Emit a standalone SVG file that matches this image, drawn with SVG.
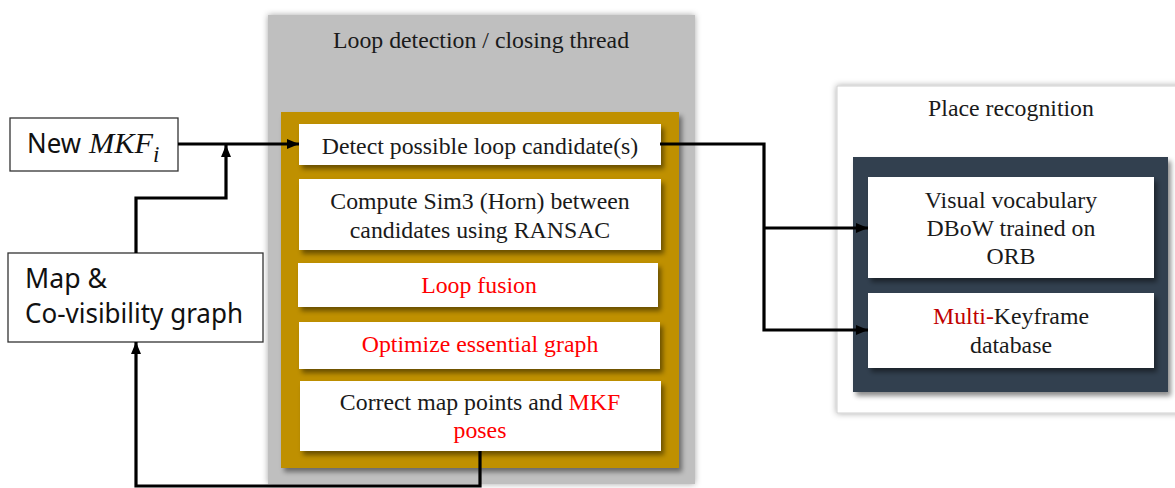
<svg xmlns="http://www.w3.org/2000/svg" width="1175" height="488" viewBox="0 0 1175 488">
  <defs>
    <filter id="glow" x="-10%" y="-10%" width="120%" height="120%">
      <feDropShadow dx="0" dy="0" stdDeviation="3" flood-color="#000" flood-opacity="0.35"/>
    </filter>
    <filter id="sh" x="-10%" y="-10%" width="125%" height="130%">
      <feDropShadow dx="3" dy="4" stdDeviation="2.5" flood-color="#000" flood-opacity="0.45"/>
    </filter>
    <marker id="arr" viewBox="0 0 12 10" refX="12" refY="5" markerWidth="12" markerHeight="10" markerUnits="userSpaceOnUse" orient="auto">
      <path d="M0,0 L12,5 L0,10 Z" fill="#000"/>
    </marker>
    <style>
      .serif { font-family: "Liberation Serif", "Times New Roman", serif; font-size: 23.8px; fill: #1a1a1a; text-anchor: middle; }
      .red { fill: #ff0000; }
      .dred { fill: #c00000; }
      .sans { font-family: "Noto Sans", "Open Sans", sans-serif; font-size: 27px; fill: #111; }
      .plain { fill: #fff; stroke: #333; stroke-width: 1.3; }
      .wbox { fill: #fff; filter: url(#sh); }
      .conn { fill: none; stroke: #000; stroke-width: 3.2; }
    </style>
  </defs>
  <rect width="1175" height="488" fill="#fff"/>

  <g id="loop-thread">
    <rect x="268" y="15" width="427" height="469" fill="#bfbfbf" filter="url(#glow)"/>
    <text class="serif" x="481" y="48">Loop detection / closing thread</text>
    <rect x="281" y="112" width="398" height="356" fill="#bf9000" filter="url(#sh)"/>
  </g>

  <g id="detect">
    <rect class="wbox" x="299" y="124" width="362" height="41"/>
    <text class="serif" x="480" y="154">Detect possible loop candidate(s)</text>
  </g>
  <g id="sim3">
    <rect class="wbox" x="299" y="179" width="362" height="71"/>
    <text class="serif" x="480" y="209">Compute Sim3 (Horn) between</text>
    <text class="serif" x="480" y="238">candidates using RANSAC</text>
  </g>
  <g id="fusion">
    <rect class="wbox" x="298" y="263" width="360" height="44"/>
    <text class="serif red" x="479" y="293">Loop fusion</text>
  </g>
  <g id="optimize">
    <rect class="wbox" x="299" y="322" width="361" height="47"/>
    <text class="serif red" x="480" y="352">Optimize essential graph</text>
  </g>
  <g id="correct">
    <rect class="wbox" x="300" y="381" width="361" height="70"/>
    <text class="serif" x="480" y="410">Correct map points and <tspan class="red">MKF</tspan></text>
    <text class="serif red" x="480" y="438">poses</text>
  </g>

  <g id="new-mkf">
    <rect class="plain" x="10" y="118" width="168" height="53"/>
    <text class="sans" x="27" y="153" textLength="54" lengthAdjust="spacingAndGlyphs">New</text>
    <text x="89" y="153" font-family="'Liberation Serif', 'DejaVu Serif', serif" font-style="italic" font-size="30" fill="#111" textLength="64" lengthAdjust="spacingAndGlyphs">MKF</text>
    <text x="153" y="162" font-family="'Liberation Serif', 'DejaVu Serif', serif" font-style="italic" font-size="23" fill="#111">i</text>
  </g>

  <g id="map">
    <rect class="plain" x="8" y="253" width="255" height="89"/>
    <text class="sans" x="25" y="288" textLength="82" lengthAdjust="spacingAndGlyphs">Map &amp;</text>
    <text class="sans" x="25" y="323" textLength="218" lengthAdjust="spacingAndGlyphs">Co-visibility graph</text>
  </g>

  <g id="place-recognition">
    <rect x="837" y="86" width="345" height="327" fill="#fff" stroke="#d0d0d0" stroke-width="1" filter="url(#glow)"/>
    <text class="serif" x="1011" y="116">Place recognition</text>
    <rect x="853" y="157" width="315" height="235" fill="#333f50" filter="url(#sh)"/>
  </g>
  <g id="vocabulary">
    <rect class="wbox" x="868" y="177" width="286" height="101"/>
    <text class="serif" x="1011" y="208">Visual vocabulary</text>
    <text class="serif" x="1011" y="236">DBoW trained on</text>
    <text class="serif" x="1011" y="264">ORB</text>
  </g>
  <g id="mkf-database">
    <rect class="wbox" x="868" y="293" width="286" height="75"/>
    <text class="serif" x="1011" y="324"><tspan class="dred">Multi-</tspan>Keyframe</text>
    <text class="serif" x="1011" y="353">database</text>
  </g>

  <g id="connectors">
    <path class="conn" d="M178,144 L299,144" marker-end="url(#arr)"/>
    <path class="conn" d="M136,253 L136,198 L226,198 L226,145" marker-end="url(#arr)"/>
    <path class="conn" d="M480,451 L480,486 L136,486 L136,342" marker-end="url(#arr)"/>
    <path class="conn" d="M660,144 L764,144 L764,330 L868,330" marker-end="url(#arr)"/>
    <path class="conn" d="M764,228 L868,228" marker-end="url(#arr)"/>
  </g>
</svg>
